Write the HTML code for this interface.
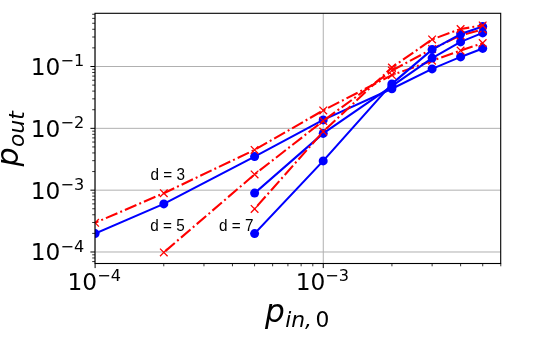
<!DOCTYPE html>
<html lang="en"><head><meta charset="utf-8"><title>p_out vs p_in,0</title>
<style>html,body{margin:0;padding:0;background:#fff;}svg{display:block;}text{font-family:"DejaVu Sans","Liberation Sans",sans-serif;fill:#000;}text.ann{font-family:"Liberation Sans",Arial,Helvetica,sans-serif;}</style></head><body>
<svg width="538" height="348" viewBox="0 0 538 348">
<rect x="0" y="0" width="538" height="348" fill="#fff"/>
<defs><clipPath id="ax"><rect x="95.0" y="13.3" width="405.7" height="250.2"/></clipPath></defs>
<g stroke="#b0b0b0" stroke-width="1.0" fill="none">
<line x1="95.0" y1="66.50" x2="500.7" y2="66.50"/>
<line x1="95.0" y1="128.33" x2="500.7" y2="128.33"/>
<line x1="95.0" y1="190.16" x2="500.7" y2="190.16"/>
<line x1="95.0" y1="251.99" x2="500.7" y2="251.99"/>
<line x1="95.10" y1="13.3" x2="95.10" y2="263.5"/>
<line x1="323.25" y1="13.3" x2="323.25" y2="263.5"/>
</g>
<g stroke="#000" fill="none">
<line x1="90.4" y1="66.50" x2="95.0" y2="66.50" stroke-width="1.0"/>
<line x1="90.4" y1="128.33" x2="95.0" y2="128.33" stroke-width="1.0"/>
<line x1="90.4" y1="190.16" x2="95.0" y2="190.16" stroke-width="1.0"/>
<line x1="90.4" y1="251.99" x2="95.0" y2="251.99" stroke-width="1.0"/>
<line x1="92.2" y1="261.57" x2="95.0" y2="261.57" stroke-width="0.8"/>
<line x1="92.2" y1="257.98" x2="95.0" y2="257.98" stroke-width="0.8"/>
<line x1="92.2" y1="254.82" x2="95.0" y2="254.82" stroke-width="0.8"/>
<line x1="92.2" y1="233.38" x2="95.0" y2="233.38" stroke-width="0.8"/>
<line x1="92.2" y1="222.49" x2="95.0" y2="222.49" stroke-width="0.8"/>
<line x1="92.2" y1="214.76" x2="95.0" y2="214.76" stroke-width="0.8"/>
<line x1="92.2" y1="208.77" x2="95.0" y2="208.77" stroke-width="0.8"/>
<line x1="92.2" y1="203.88" x2="95.0" y2="203.88" stroke-width="0.8"/>
<line x1="92.2" y1="199.74" x2="95.0" y2="199.74" stroke-width="0.8"/>
<line x1="92.2" y1="196.15" x2="95.0" y2="196.15" stroke-width="0.8"/>
<line x1="92.2" y1="192.99" x2="95.0" y2="192.99" stroke-width="0.8"/>
<line x1="92.2" y1="171.55" x2="95.0" y2="171.55" stroke-width="0.8"/>
<line x1="92.2" y1="160.66" x2="95.0" y2="160.66" stroke-width="0.8"/>
<line x1="92.2" y1="152.93" x2="95.0" y2="152.93" stroke-width="0.8"/>
<line x1="92.2" y1="146.94" x2="95.0" y2="146.94" stroke-width="0.8"/>
<line x1="92.2" y1="142.05" x2="95.0" y2="142.05" stroke-width="0.8"/>
<line x1="92.2" y1="137.91" x2="95.0" y2="137.91" stroke-width="0.8"/>
<line x1="92.2" y1="134.32" x2="95.0" y2="134.32" stroke-width="0.8"/>
<line x1="92.2" y1="131.16" x2="95.0" y2="131.16" stroke-width="0.8"/>
<line x1="92.2" y1="109.72" x2="95.0" y2="109.72" stroke-width="0.8"/>
<line x1="92.2" y1="98.83" x2="95.0" y2="98.83" stroke-width="0.8"/>
<line x1="92.2" y1="91.10" x2="95.0" y2="91.10" stroke-width="0.8"/>
<line x1="92.2" y1="85.11" x2="95.0" y2="85.11" stroke-width="0.8"/>
<line x1="92.2" y1="80.22" x2="95.0" y2="80.22" stroke-width="0.8"/>
<line x1="92.2" y1="76.08" x2="95.0" y2="76.08" stroke-width="0.8"/>
<line x1="92.2" y1="72.49" x2="95.0" y2="72.49" stroke-width="0.8"/>
<line x1="92.2" y1="69.33" x2="95.0" y2="69.33" stroke-width="0.8"/>
<line x1="92.2" y1="47.89" x2="95.0" y2="47.89" stroke-width="0.8"/>
<line x1="92.2" y1="37.00" x2="95.0" y2="37.00" stroke-width="0.8"/>
<line x1="92.2" y1="29.27" x2="95.0" y2="29.27" stroke-width="0.8"/>
<line x1="92.2" y1="23.28" x2="95.0" y2="23.28" stroke-width="0.8"/>
<line x1="92.2" y1="18.39" x2="95.0" y2="18.39" stroke-width="0.8"/>
<line x1="92.2" y1="14.25" x2="95.0" y2="14.25" stroke-width="0.8"/>
<line x1="95.10" y1="263.5" x2="95.10" y2="268.1" stroke-width="1.0"/>
<line x1="323.25" y1="263.5" x2="323.25" y2="268.1" stroke-width="1.0"/>
<line x1="163.78" y1="263.5" x2="163.78" y2="266.3" stroke-width="0.8"/>
<line x1="203.96" y1="263.5" x2="203.96" y2="266.3" stroke-width="0.8"/>
<line x1="232.46" y1="263.5" x2="232.46" y2="266.3" stroke-width="0.8"/>
<line x1="254.57" y1="263.5" x2="254.57" y2="266.3" stroke-width="0.8"/>
<line x1="272.64" y1="263.5" x2="272.64" y2="266.3" stroke-width="0.8"/>
<line x1="287.91" y1="263.5" x2="287.91" y2="266.3" stroke-width="0.8"/>
<line x1="301.14" y1="263.5" x2="301.14" y2="266.3" stroke-width="0.8"/>
<line x1="312.81" y1="263.5" x2="312.81" y2="266.3" stroke-width="0.8"/>
<line x1="391.93" y1="263.5" x2="391.93" y2="266.3" stroke-width="0.8"/>
<line x1="432.11" y1="263.5" x2="432.11" y2="266.3" stroke-width="0.8"/>
<line x1="460.61" y1="263.5" x2="460.61" y2="266.3" stroke-width="0.8"/>
<line x1="482.72" y1="263.5" x2="482.72" y2="266.3" stroke-width="0.8"/>
<line x1="500.79" y1="263.5" x2="500.79" y2="266.3" stroke-width="0.8"/>
</g>
<g clip-path="url(#ax)">
<polyline fill="none" stroke="#0000ff" stroke-width="2.1" stroke-linejoin="round" points="95.1,233.6 163.8,203.9 254.6,156.6 323.2,119.9 391.9,88.7 432.1,68.9 460.6,56.9 482.7,48.4"/>
<circle cx="95.1" cy="233.6" r="4.5" fill="#0000ff"/>
<circle cx="163.8" cy="203.9" r="4.5" fill="#0000ff"/>
<circle cx="254.6" cy="156.6" r="4.5" fill="#0000ff"/>
<circle cx="323.2" cy="119.9" r="4.5" fill="#0000ff"/>
<circle cx="391.9" cy="88.7" r="4.5" fill="#0000ff"/>
<circle cx="432.1" cy="68.9" r="4.5" fill="#0000ff"/>
<circle cx="460.6" cy="56.9" r="4.5" fill="#0000ff"/>
<circle cx="482.7" cy="48.4" r="4.5" fill="#0000ff"/>
<polyline fill="none" stroke="#ff0000" stroke-width="2.1" stroke-linejoin="round" stroke-dasharray="12.5 3.12 1.95 3.12" stroke-dashoffset="8.9" points="95.1,222.8 163.8,193.2 254.6,149.9 323.2,110.4 391.9,75.1 432.1,60.7 460.6,50.6 482.7,43.1"/>
<path d="M91.3 219.0L98.9 226.6M91.3 226.6L98.9 219.0" stroke="#ff0000" stroke-width="1.3" fill="none"/>
<path d="M160.0 189.4L167.6 197.0M160.0 197.0L167.6 189.4" stroke="#ff0000" stroke-width="1.3" fill="none"/>
<path d="M250.8 146.1L258.4 153.7M250.8 153.7L258.4 146.1" stroke="#ff0000" stroke-width="1.3" fill="none"/>
<path d="M319.4 106.6L327.1 114.2M319.4 114.2L327.1 106.6" stroke="#ff0000" stroke-width="1.3" fill="none"/>
<path d="M388.1 71.3L395.7 78.9M388.1 78.9L395.7 71.3" stroke="#ff0000" stroke-width="1.3" fill="none"/>
<path d="M428.3 56.9L435.9 64.5M428.3 64.5L435.9 56.9" stroke="#ff0000" stroke-width="1.3" fill="none"/>
<path d="M456.8 46.8L464.4 54.4M456.8 54.4L464.4 46.8" stroke="#ff0000" stroke-width="1.3" fill="none"/>
<path d="M478.9 39.3L486.5 46.9M478.9 46.9L486.5 39.3" stroke="#ff0000" stroke-width="1.3" fill="none"/>
<polyline fill="none" stroke="#0000ff" stroke-width="2.1" stroke-linejoin="round" points="254.6,193.1 323.2,133.4 391.9,86.2 432.1,58.1 460.6,41.9 482.7,32.9"/>
<circle cx="254.6" cy="193.1" r="4.5" fill="#0000ff"/>
<circle cx="323.2" cy="133.4" r="4.5" fill="#0000ff"/>
<circle cx="391.9" cy="86.2" r="4.5" fill="#0000ff"/>
<circle cx="432.1" cy="58.1" r="4.5" fill="#0000ff"/>
<circle cx="460.6" cy="41.9" r="4.5" fill="#0000ff"/>
<circle cx="482.7" cy="32.9" r="4.5" fill="#0000ff"/>
<polyline fill="none" stroke="#ff0000" stroke-width="2.1" stroke-linejoin="round" stroke-dasharray="12.5 3.12 1.95 3.12" stroke-dashoffset="-2" points="163.8,252.4 254.6,174.4 323.2,120.9 391.9,70.6 432.1,49.0 460.6,35.4 482.7,29.4"/>
<path d="M160.0 248.6L167.6 256.2M160.0 256.2L167.6 248.6" stroke="#ff0000" stroke-width="1.3" fill="none"/>
<path d="M250.8 170.6L258.4 178.2M250.8 178.2L258.4 170.6" stroke="#ff0000" stroke-width="1.3" fill="none"/>
<path d="M319.4 117.1L327.1 124.7M319.4 124.7L327.1 117.1" stroke="#ff0000" stroke-width="1.3" fill="none"/>
<path d="M388.1 66.8L395.7 74.4M388.1 74.4L395.7 66.8" stroke="#ff0000" stroke-width="1.3" fill="none"/>
<path d="M428.3 45.2L435.9 52.8M428.3 52.8L435.9 45.2" stroke="#ff0000" stroke-width="1.3" fill="none"/>
<path d="M456.8 31.6L464.4 39.2M456.8 39.2L464.4 31.6" stroke="#ff0000" stroke-width="1.3" fill="none"/>
<path d="M478.9 25.6L486.5 33.2M478.9 33.2L486.5 25.6" stroke="#ff0000" stroke-width="1.3" fill="none"/>
<polyline fill="none" stroke="#0000ff" stroke-width="2.1" stroke-linejoin="round" points="254.6,233.6 323.2,160.9 391.9,83.9 432.1,49.6 460.6,34.1 482.7,26.6"/>
<circle cx="254.6" cy="233.6" r="4.5" fill="#0000ff"/>
<circle cx="323.2" cy="160.9" r="4.5" fill="#0000ff"/>
<circle cx="391.9" cy="83.9" r="4.5" fill="#0000ff"/>
<circle cx="432.1" cy="49.6" r="4.5" fill="#0000ff"/>
<circle cx="460.6" cy="34.1" r="4.5" fill="#0000ff"/>
<circle cx="482.7" cy="26.6" r="4.5" fill="#0000ff"/>
<polyline fill="none" stroke="#ff0000" stroke-width="2.1" stroke-linejoin="round" stroke-dasharray="12.5 3.12 1.95 3.12" stroke-dashoffset="-4" points="254.6,208.9 323.2,131.6 391.9,67.5 432.1,39.4 460.6,29.0 482.7,25.4"/>
<path d="M250.8 205.1L258.4 212.7M250.8 212.7L258.4 205.1" stroke="#ff0000" stroke-width="1.3" fill="none"/>
<path d="M319.4 127.8L327.1 135.4M319.4 135.4L327.1 127.8" stroke="#ff0000" stroke-width="1.3" fill="none"/>
<path d="M388.1 63.7L395.7 71.3M388.1 71.3L395.7 63.7" stroke="#ff0000" stroke-width="1.3" fill="none"/>
<path d="M428.3 35.6L435.9 43.2M428.3 43.2L435.9 35.6" stroke="#ff0000" stroke-width="1.3" fill="none"/>
<path d="M456.8 25.2L464.4 32.8M456.8 32.8L464.4 25.2" stroke="#ff0000" stroke-width="1.3" fill="none"/>
<path d="M478.9 21.6L486.5 29.2M478.9 29.2L486.5 21.6" stroke="#ff0000" stroke-width="1.3" fill="none"/>
</g>
<rect x="95.0" y="13.3" width="405.7" height="250.2" fill="none" stroke="#000" stroke-width="1.1"/>
<text transform="translate(150.5 179.5) scale(1 1.08)" font-size="15.3" class="ann">d = 3</text>
<text transform="translate(150.3 231.2) scale(1 1.08)" font-size="15.3" class="ann">d = 5</text>
<text transform="translate(219 230.6) scale(1 1.08)" font-size="15.3" class="ann">d = 7</text>
<text x="84.2" y="74.8" font-size="23.3" text-anchor="end">10<tspan font-size="16.1" dy="-8.5">−1</tspan></text>
<text x="84.2" y="136.6" font-size="23.3" text-anchor="end">10<tspan font-size="16.1" dy="-8.5">−2</tspan></text>
<text x="84.2" y="198.5" font-size="23.3" text-anchor="end">10<tspan font-size="16.1" dy="-8.5">−3</tspan></text>
<text x="84.2" y="260.3" font-size="23.3" text-anchor="end">10<tspan font-size="16.1" dy="-8.5">−4</tspan></text>
<text x="94.2" y="289.8" font-size="23.3" text-anchor="middle">10<tspan font-size="16.1" dy="-8.5">−4</tspan></text>
<text x="322.4" y="289.8" font-size="23.3" text-anchor="middle">10<tspan font-size="16.1" dy="-8.5">−3</tspan></text>
<text x="265" y="321.6" font-size="31.2" font-style="italic">p<tspan font-size="21.8" dy="5.8" dx="0.4">in,</tspan><tspan font-size="21.8" font-style="normal" dx="3.4">0</tspan></text>
<text transform="translate(18.2 166.5) rotate(-90)" font-size="30.2" font-style="italic">p<tspan font-size="21.8" dy="5.8" dx="0.4">out</tspan></text>
</svg></body></html>
